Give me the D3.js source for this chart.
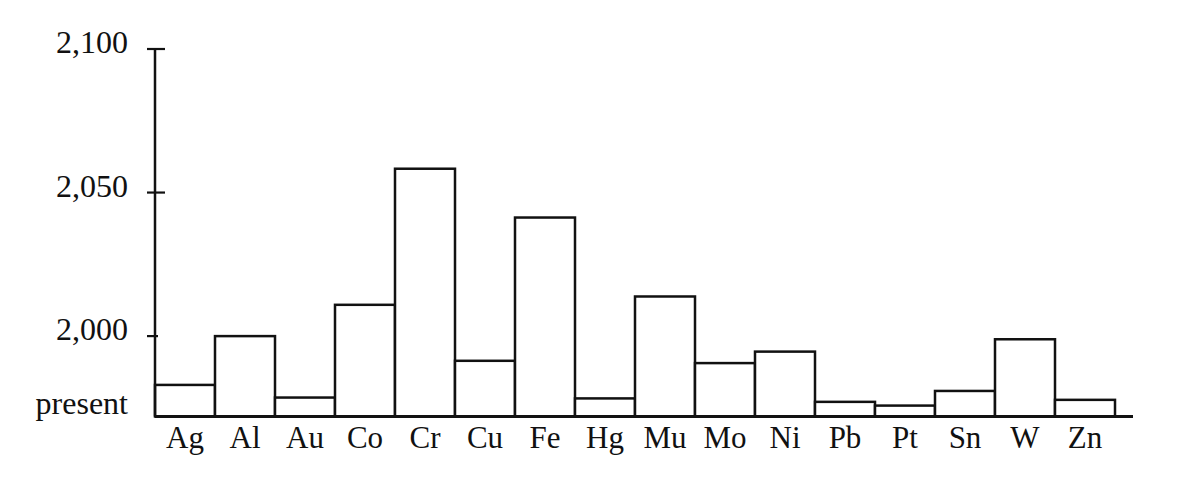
<!DOCTYPE html>
<html>
<head>
<meta charset="utf-8">
<script src="https://cdn.jsdelivr.net/npm/d3@7"></script>
<style>
  html, body { margin: 0; padding: 0; background: #fff; }
  svg { display: block; }
  text { font-family: "Liberation Serif", "DejaVu Serif", serif; fill: #111; }
</style>
</head>
<body>
<svg id="chart" width="1200" height="478"></svg>
<script>
// Data: year of exhaustion per metal
const metals = ["Ag","Al","Au","Co","Cr","Cu","Fe","Hg","Mu","Mo","Ni","Pb","Pt","Sn","W","Zn"];
const years  = [1983.0, 2000.0, 1978.6, 2010.9, 2058.3, 1991.4, 2041.3, 1978.3, 2013.8, 1990.6, 1994.6, 1977.1, 1975.8, 1980.9, 1998.9, 1977.8];
const presentYear = 1972;
const tickValues = [presentYear, 2000, 2050, 2100];
const tickLabels = ["present", "2,000", "2,050", "2,100"];

const svg = d3.select("#chart");

const x = d3.scaleBand().domain(metals).range([155, 1115]).padding(0);
const y = d3.scaleLinear().domain([presentYear, 2100]).range([416.5, 49]);

const ink = "#111";

// bars
svg.append("g").selectAll("rect")
  .data(metals)
  .join("rect")
  .attr("x", d => x(d))
  .attr("width", x.bandwidth())
  .attr("y", (d, i) => y(years[i]))
  .attr("height", (d, i) => y(presentYear) - y(years[i]))
  .attr("fill", "#fff")
  .attr("stroke", ink)
  .attr("stroke-width", 2.5);

// y axis line
svg.append("line")
  .attr("x1", 155).attr("x2", 155)
  .attr("y1", y(2100)).attr("y2", y(presentYear))
  .attr("stroke", ink).attr("stroke-width", 2.5);

// x baseline
svg.append("line")
  .attr("x1", 155).attr("x2", 1133)
  .attr("y1", y(presentYear)).attr("y2", y(presentYear))
  .attr("stroke", ink).attr("stroke-width", 2.8);

// y ticks
const tickExtent = { 2100: [147, 165], 2050: [147, 165], 2000: [147, 158] };
tickValues.forEach((v, i) => {
  if (tickExtent[v]) {
    svg.append("line")
      .attr("x1", tickExtent[v][0]).attr("x2", tickExtent[v][1])
      .attr("y1", y(v)).attr("y2", y(v))
      .attr("stroke", ink).attr("stroke-width", 2.2);
  }
  svg.append("text")
    .attr("x", 128)
    .attr("y", v === presentYear ? y(v) - 3 : y(v) + 4)
    .attr("text-anchor", "end")
    .attr("font-size", 32)
    .text(tickLabels[i]);
});

// x labels
svg.append("g").selectAll("text")
  .data(metals)
  .join("text")
  .attr("x", d => x(d) + x.bandwidth() / 2)
  .attr("y", 448)
  .attr("text-anchor", "middle")
  .attr("font-size", 31)
  .text(d => d);
</script>
</body>
</html>
